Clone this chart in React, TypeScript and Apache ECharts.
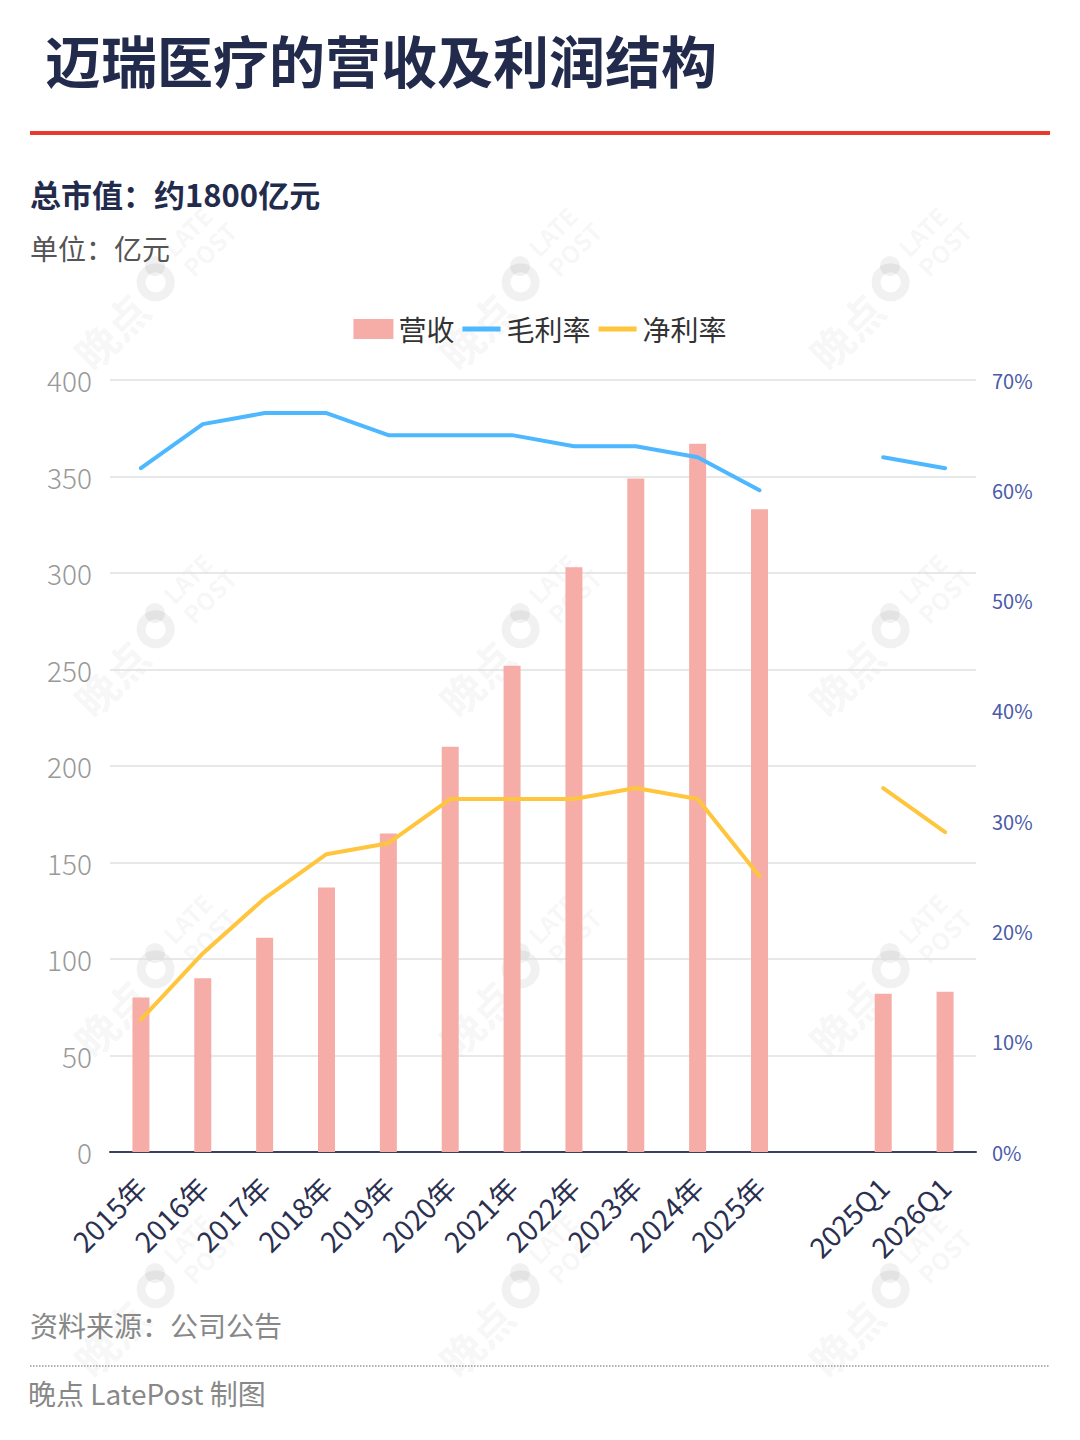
import { useEffect, useRef } from 'react';
import * as echarts from 'echarts';

const categories = [
  '2015年', '2016年', '2017年', '2018年', '2019年', '2020年', '2021年',
  '2022年', '2023年', '2024年', '2025年', '', '2025Q1', '2026Q1',
];
const revenue = [80, 90, 111, 137, 165, 210, 252, 303, 349, 367, 333, '-', 82, 83];
const grossMargin = [62, 66, 67, 67, 65, 65, 65, 64, 64, 63, 60, '-', 63, 62];
const netMargin = [12, 18, 23, 27, 28, 32, 32, 32, 33, 32, 25, '-', 33, 29];

const FONT = '"Noto Sans CJK SC", "Noto Sans", sans-serif';

// 图例里的线条图标：中间一条粗线，四角放几乎看不见的小点撑开尺寸
const LINE_ICON = 'path://M0,8L40,8L40,13L0,13Z M0,0L0.01,0L0.01,0.01Z M40,21L40.01,21L40.01,21.01Z';

/** 水印位置 */
const markCols = [150, 515, 885];
const markRows = [288, 635, 975, 1295];

function watermark(cx: number, cy: number) {
  const fill = 'rgba(0,0,0,0.055)';
  return {
    type: 'group',
    x: cx,
    y: cy,
    rotation: Math.PI / 4,
    silent: true,
    children: [
      { type: 'text', x: -100, y: 2, style: { text: '晚点', fill, font: `bold 42px ${FONT}`, verticalAlign: 'middle' } },
      { type: 'ring', shape: { cx: 8, cy: 0, r: 19, r0: 10 }, style: { fill } },
      { type: 'circle', shape: { cx: 19, cy: -12, r: 10 }, style: { fill } },
      { type: 'text', x: 38, y: -14, style: { text: 'LATE', fill, font: `bold 24px ${FONT}`, verticalAlign: 'middle' } },
      { type: 'text', x: 38, y: 14, style: { text: 'POST', fill, font: `bold 24px ${FONT}`, verticalAlign: 'middle' } },
    ],
  };
}

export default function App() {
  const chartRef = useRef<HTMLDivElement>(null);

  useEffect(() => {
    document.body.style.margin = '0';
    if (!chartRef.current) return;
    const chart = echarts.init(chartRef.current, null, { renderer: 'svg' });

    const marks: object[] = [];
    for (const y of markRows) for (const x of markCols) marks.push(watermark(x, y));

    const option = {
      animation: false,
      backgroundColor: '#fff',
      textStyle: { fontFamily: FONT },
      graphic: [
        ...marks,
        { type: 'text', left: 45, top: 30, style: { text: '迈瑞医疗的营收及利润结构', fill: '#232B4D', font: `bold 56px ${FONT}` } },
        { type: 'rect', shape: { x: 30, y: 131, width: 1020, height: 4 }, style: { fill: '#E8392A' } },
        { type: 'text', left: 30, top: 178, style: { text: '总市值：约1800亿元', fill: '#232B4D', font: `bold 31px ${FONT}` } },
        { type: 'text', left: 30, top: 234, style: { text: '单位：亿元', fill: '#555', font: `28px ${FONT}` } },
        { type: 'text', left: 30, top: 1311, style: { text: '资料来源：公司公告', fill: '#888', font: `28px ${FONT}` } },
        { type: 'line', shape: { x1: 30, y1: 1366, x2: 1050, y2: 1366 }, style: { stroke: '#999', lineWidth: 1.5, lineDash: [1.5, 1.5] } },
        { type: 'text', left: 28, top: 1379, style: { text: '晚点 LatePost 制图', fill: '#888', font: `28px ${FONT}` } },
      ],
      legend: {
        top: 310,
        left: 'center',
        itemWidth: 40,
        itemHeight: 20,
        itemGap: 8,
        textStyle: { fontSize: 28, color: '#333', fontFamily: FONT },
        data: [
          { name: '营收', icon: 'rect' },
          { name: '毛利率', icon: LINE_ICON },
          { name: '净利率', icon: LINE_ICON },
        ],
      },
      grid: { left: 110, right: 104, top: 380, bottom: 288 },
      xAxis: {
        type: 'category',
        data: categories,
        axisLine: { lineStyle: { color: '#3A4060', width: 2 } },
        axisTick: { show: false },
        axisLabel: {
          rotate: 45,
          interval: 0,
          color: '#2B3050',
          fontSize: 28,
          margin: 30,
          fontFamily: FONT,
        },
      },
      yAxis: [
        {
          type: 'value',
          min: 0,
          max: 400,
          interval: 50,
          axisLine: { show: false },
          axisTick: { show: false },
          axisLabel: { color: '#999', fontSize: 28, margin: 18, fontFamily: FONT, fontWeight: 300 },
          splitLine: { lineStyle: { color: '#E0E0E0', width: 1.5 } },
        },
        {
          type: 'value',
          min: 0,
          max: 70,
          interval: 10,
          position: 'right',
          axisLine: { show: false },
          axisTick: { show: false },
          axisLabel: { formatter: '{value}%', color: '#4A5BA8', fontSize: 20, margin: 16, fontFamily: FONT },
          splitLine: { show: false },
        },
      ],
      series: [
        {
          name: '营收',
          type: 'bar',
          data: revenue,
          barWidth: 17,
          itemStyle: { color: '#F6ADA7' },
        },
        {
          name: '毛利率',
          type: 'line',
          yAxisIndex: 1,
          data: grossMargin,
          symbol: 'none',
          connectNulls: false,
          lineStyle: { color: '#4DB8FF', width: 4, cap: 'round', join: 'round' },
          itemStyle: { color: '#4DB8FF' },
        },
        {
          name: '净利率',
          type: 'line',
          yAxisIndex: 1,
          data: netMargin,
          symbol: 'none',
          connectNulls: false,
          lineStyle: { color: '#FFC53D', width: 4, cap: 'round', join: 'round' },
          itemStyle: { color: '#FFC53D' },
        },
      ],
    };

    chart.setOption(option as echarts.EChartsOption);
    return () => chart.dispose();
  }, []);

  return <div ref={chartRef} style={{ width: 1080, height: 1440 }} />;
}
